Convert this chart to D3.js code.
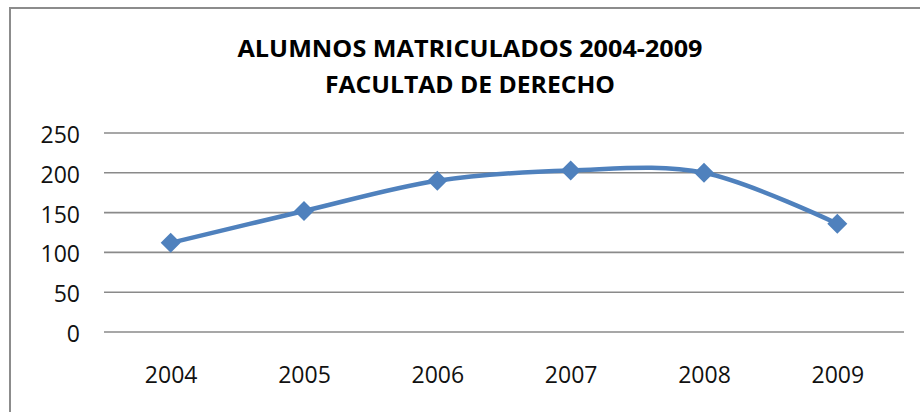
<!DOCTYPE html>
<html>
<head>
<meta charset="utf-8">
<script src="https://cdn.jsdelivr.net/npm/d3@7"></script>
<style>
  html, body { margin: 0; padding: 0; background: #fff; }
  svg { display: block; }
</style>
</head>
<body>
<svg id="chart" width="920" height="412"></svg>
<script>
const categories = ["2004", "2005", "2006", "2007", "2008", "2009"];
const values = [112, 152, 190, 203, 200, 136];
const yTicks = [0, 50, 100, 150, 200, 250];
const titleLines = ["ALUMNOS MATRICULADOS 2004-2009", "FACULTAD DE DERECHO"];

const svg = d3.select("#chart");
const W = 920, H = 412;

// frame (extends beyond the right and bottom edges)
svg.append("rect")
  .attr("x", 10).attr("y", 8)
  .attr("width", W + 20).attr("height", H + 20)
  .attr("fill", "#fff")
  .attr("stroke", "#8c8c8c")
  .attr("stroke-width", 2);

const plot = { left: 104, right: 904, top: 133, bottom: 332 };

const x = d3.scalePoint().domain(categories)
  .range([plot.left, plot.right]).padding(0.5);
const y = d3.scaleLinear().domain([0, 250]).range([plot.bottom, plot.top]);

// gridlines
svg.append("g").selectAll("line").data(yTicks).join("line")
  .attr("x1", plot.left).attr("x2", plot.right)
  .attr("y1", d => y(d)).attr("y2", d => y(d))
  .attr("stroke", "#8a8a8a").attr("stroke-width", 1.6);

// y axis labels
const yAxis = d3.axisLeft(y).tickValues(yTicks).tickSize(0).tickPadding(0);
const gy = svg.append("g").attr("transform", "translate(80,0)").call(yAxis);
gy.select(".domain").remove();
gy.selectAll("text")
  .attr("font-family", "'Open Sans', sans-serif")
  .attr("font-size", 23)
  .attr("fill", "#111")
  .attr("dy", "0.41em");

// x axis labels
const xAxis = d3.axisBottom(x).tickSize(0).tickPadding(0);
const gx = svg.append("g").attr("transform", "translate(0,366)").call(xAxis);
gx.select(".domain").remove();
gx.selectAll("text")
  .attr("font-family", "'Open Sans', sans-serif")
  .attr("font-size", 23)
  .attr("fill", "#111")
  .attr("dy", "0.72em");

// line
const line = d3.line()
  .x((d, i) => x(categories[i]))
  .y(d => y(d))
  .curve(d3.curveCardinal.tension(0));
svg.append("path")
  .datum(values)
  .attr("d", line)
  .attr("fill", "none")
  .attr("stroke", "#4f81bd")
  .attr("stroke-width", 4.5)
  .attr("stroke-linejoin", "round");

// diamond markers
svg.append("g").selectAll("path").data(values).join("path")
  .attr("transform", (d, i) => `translate(${x(categories[i])},${y(d)})`)
  .attr("d", "M0,-10 L10,0 L0,10 L-10,0 Z")
  .attr("fill", "#4f81bd");

// title
const titleW = [465, 290];
const titleY = [57, 93];
svg.append("g").selectAll("text").data(titleLines).join("text")
  .attr("x", 470)
  .attr("y", (d, i) => titleY[i])
  .attr("text-anchor", "middle")
  .attr("font-family", "'Open Sans', sans-serif")
  .attr("font-weight", "bold")
  .attr("font-size", 24)
  .attr("fill", "#000")
  .attr("textLength", (d, i) => titleW[i])
  .attr("lengthAdjust", "spacingAndGlyphs")
  .text(d => d);
</script>
</body>
</html>
